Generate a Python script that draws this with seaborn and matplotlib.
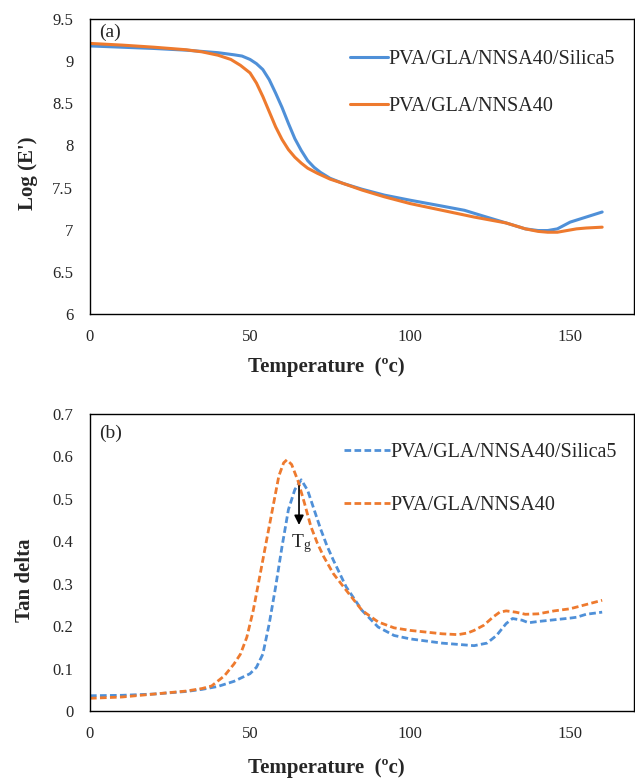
"""DMA curves: storage modulus (a) and tan delta (b) for PVA/GLA/NNSA40 membranes."""

import pandas as pd
import seaborn as sns
import matplotlib.pyplot as plt

# Series labels / colours
LABEL_SILICA = "PVA/GLA/NNSA40/Silica5"
LABEL_PLAIN = "PVA/GLA/NNSA40"
BLUE = "#4f90d8"
ORANGE = "#ee7a2e"

# (a) Log(E') vs temperature
TEMP_E_SILICA = [0, 10, 20, 30, 40, 45, 47.5, 50, 52, 54, 56, 58, 60, 62, 64, 66, 68, 70, 72,
                 75, 79, 85, 92, 100, 110, 117, 123, 130, 136, 140, 143, 146, 150, 155, 160]
LOGE_SILICA = [9.18, 9.165, 9.15, 9.13, 9.10, 9.075, 9.06, 9.02, 8.97, 8.90, 8.78, 8.62, 8.45,
               8.26, 8.08, 7.94, 7.82, 7.74, 7.68, 7.61, 7.55, 7.48, 7.41, 7.35, 7.28, 7.23,
               7.16, 7.08, 7.01, 6.99, 6.99, 7.01, 7.09, 7.15, 7.21]

TEMP_E_PLAIN = [0, 10, 20, 30, 35, 40, 44, 47, 50, 52, 54, 56, 58, 60, 62, 64, 66, 68, 71, 75,
                79, 85, 92, 100, 110, 120, 130, 136, 140, 143, 146, 149, 152, 155, 160]
LOGE_PLAIN = [9.21, 9.19, 9.165, 9.135, 9.11, 9.07, 9.02, 8.95, 8.86, 8.74, 8.58, 8.40, 8.22,
              8.07, 7.95, 7.86, 7.79, 7.73, 7.67, 7.60, 7.55, 7.47, 7.39, 7.31, 7.23, 7.15,
              7.08, 7.01, 6.98, 6.97, 6.97, 6.99, 7.01, 7.02, 7.03]

# (b) tan delta vs temperature
TEMP_TD_SILICA = [0, 10, 20, 30, 35, 40, 45, 50, 52, 54, 56, 58, 60, 62, 64, 66, 68, 70, 72, 74,
                  76, 80, 85, 90, 95, 100, 105, 110, 115, 120, 124, 127, 130, 132, 135, 137,
                  140, 145, 150, 152, 155, 160]
TAND_SILICA = [0.036, 0.037, 0.040, 0.046, 0.051, 0.058, 0.070, 0.088, 0.103, 0.134, 0.206,
               0.293, 0.388, 0.475, 0.522, 0.545, 0.520, 0.475, 0.430, 0.390, 0.356, 0.293,
               0.237, 0.198, 0.178, 0.170, 0.165, 0.160, 0.157, 0.154, 0.160, 0.178, 0.206,
               0.218, 0.214, 0.208, 0.211, 0.215, 0.219, 0.221, 0.228, 0.233]

TEMP_TD_PLAIN = [0, 10, 20, 30, 35, 38, 40, 42, 45, 47, 49, 51, 53, 55, 57, 59, 60.5, 61.5, 63,
                 65, 67, 69, 71, 73, 76, 80, 85, 90, 95, 100, 110, 115, 118, 120, 123, 126,
                 128, 130, 133, 136, 140, 145, 150, 155, 160]
TAND_PLAIN = [0.030, 0.033, 0.040, 0.047, 0.053, 0.059, 0.071, 0.083, 0.111, 0.134, 0.174,
              0.237, 0.316, 0.396, 0.475, 0.554, 0.585, 0.592, 0.581, 0.542, 0.490, 0.435,
              0.396, 0.364, 0.324, 0.285, 0.237, 0.210, 0.196, 0.190, 0.182, 0.180, 0.184,
              0.190, 0.202, 0.222, 0.233, 0.236, 0.233, 0.228, 0.229, 0.236, 0.241, 0.251,
              0.261]

TG_TEMP = 65.3


def frame(x, y, label):
    return pd.DataFrame({"temp": x, "val": y, "sample": label})


def style_axes(ax, ylabel, ylim, yticks, ylab_xy, xlab_y, tag, tag_y):
    ax.set_xlim(0, 170)
    ax.set_xticks([0, 50, 100, 150])
    ax.set_ylim(*ylim)
    ax.set_yticks(yticks)
    ax.set_yticklabels([f"{t:g}" for t in yticks])
    for s in ax.spines.values():
        s.set_visible(True)
        s.set_color("black")
        s.set_linewidth(1.0)
    ax.tick_params(direction="out", length=4, width=1, labelsize=12, color="black")
    ax.tick_params(axis="y", pad=8)
    ax.tick_params(axis="x", pad=7)
    ax.set_xlabel("Temperature  (ºc)", fontsize=15, fontweight="bold")
    ax.set_ylabel(ylabel, fontsize=15, fontweight="bold")
    ax.xaxis.label.set_va("center")
    ax.xaxis.set_label_coords(0.434, xlab_y)
    ax.yaxis.label.set_va("center")
    ax.yaxis.label.set_ha("center")
    ax.yaxis.set_label_coords(ylab_xy[0], ylab_xy[1])
    ax.text(0.017, tag_y, tag, transform=ax.transAxes, fontsize=14, va="center", ha="left")
    ax.grid(False)


def add_legend(ax, x0, yc, hlen, spacing):
    leg = ax.legend(loc="center left", bbox_to_anchor=(x0, yc), frameon=False,
                    fontsize=14.5, handlelength=hlen, handletextpad=0.0,
                    labelspacing=spacing, borderpad=0, borderaxespad=0)
    return leg


def main():
    sns.set_style("white")
    plt.rcParams["font.family"] = ["Liberation Serif", "DejaVu Serif"]
    plt.rcParams["mathtext.fontset"] = "custom"
    plt.rcParams["mathtext.rm"] = "Liberation Serif"
    plt.rcParams["mathtext.it"] = "Liberation Serif:italic"

    fig = plt.figure(figsize=(6.35, 7.84), dpi=100)
    ax_a = fig.add_axes([0.1417, 0.5995, 0.857, 0.3763])
    ax_b = fig.add_axes([0.1417, 0.0931, 0.857, 0.3788])

    # (a) storage modulus
    sns.lineplot(data=frame(TEMP_E_SILICA, LOGE_SILICA, LABEL_SILICA), x="temp", y="val",
                 color=BLUE, lw=2.2, label=LABEL_SILICA, ax=ax_a)
    sns.lineplot(data=frame(TEMP_E_PLAIN, LOGE_PLAIN, LABEL_PLAIN), x="temp", y="val",
                 color=ORANGE, lw=2.2, label=LABEL_PLAIN, ax=ax_a)
    style_axes(ax_a, "Log (E')", (6, 9.5), [6, 6.5, 7, 7.5, 8, 8.5, 9, 9.5],
               (-0.114, 0.478), -0.18, "(a)", 0.953)
    add_legend(ax_a, 0.478, 0.783, 1.9, 1.35)

    # (b) tan delta
    sns.lineplot(data=frame(TEMP_TD_SILICA, TAND_SILICA, LABEL_SILICA), x="temp", y="val",
                 color=BLUE, lw=2.0, label=LABEL_SILICA, ax=ax_b)
    sns.lineplot(data=frame(TEMP_TD_PLAIN, TAND_PLAIN, LABEL_PLAIN), x="temp", y="val",
                 color=ORANGE, lw=2.0, label=LABEL_PLAIN, ax=ax_b)
    for line in ax_b.get_lines():
        line.set_dashes((2.4, 1.2))
    style_axes(ax_b, "Tan delta", (0, 0.7), [0, 0.1, 0.2, 0.3, 0.4, 0.5, 0.6, 0.7],
               (-0.119, 0.441), -0.192, "(b)", 0.936)
    leg_b = add_legend(ax_b, 0.467, 0.781, 2.3, 1.7)
    for line in leg_b.get_lines():
        line.set_dashes((2.4, 1.2))

    # Tg marker
    ax_b.annotate("", xy=(TG_TEMP, 0.432), xytext=(TG_TEMP, 0.537),
                  arrowprops=dict(arrowstyle="-|>", color="black", lw=1.2, mutation_scale=14))
    ax_b.text(TG_TEMP + 0.6, 0.395, r"T$_{\mathrm{g}}$", fontsize=14, ha="center", va="center")

    fig.savefig("out.png", dpi=100)


if __name__ == "__main__":
    main()
